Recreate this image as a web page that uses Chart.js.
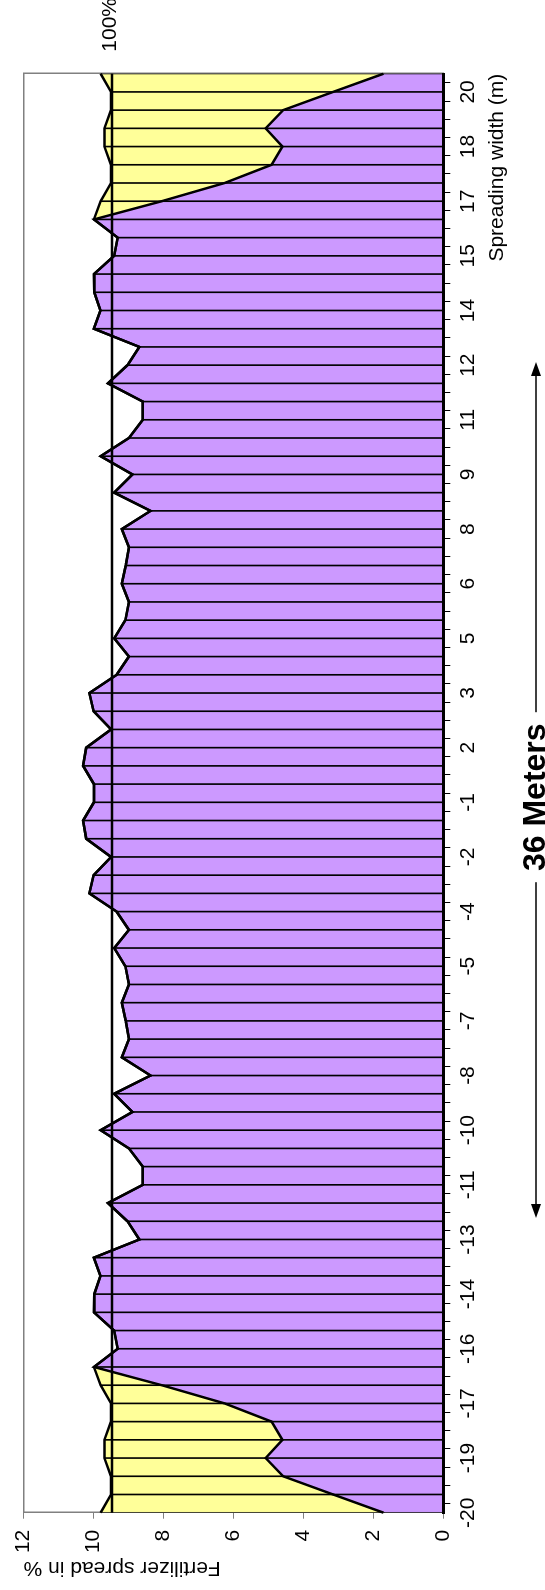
<!DOCTYPE html>
<html>
<head>
<meta charset="utf-8">
<title>Fertilizer spread</title>
<script src="https://cdn.jsdelivr.net/npm/chart.js@4.4.1/dist/chart.umd.min.js"></script>
<style>
  html, body { margin: 0; padding: 0; overflow: hidden; background: #fff; }
  /* chart is drawn landscape and turned a quarter turn, like the original sheet */
  #wrap {
    position: absolute; left: 0; top: 0;
    width: 1590px; height: 545px;
    transform-origin: 0 0;
    transform: translateY(1590px) rotate(-90deg);
  }
</style>
</head>
<body>
<div id="wrap"><canvas id="spreadChart" width="1590" height="545"></canvas></div>
<script>
// spreading width positions (m), one per measuring tray
const positions = [
  -20, -19.5, -19, -18.5, -18, -17.5, -17, -16.5, -16, -15.5,
  -15, -14.5, -14, -13.5, -13, -12.5, -12, -11.5, -11, -10.5,
  -10, -9.5, -9, -8.5, -8, -7.5, -7, -6.5, -6, -5.5,
  -5, -4.5, -4, -3.5, -3, -2.5, -2, -1.5, -1, -0.5,
  0.5, 1, 1.5, 2, 2.5, 3, 3.5, 4, 4.5, 5,
  5.5, 6, 6.5, 7, 7.5, 8, 8.5, 9, 9.5, 10,
  10.5, 11, 11.5, 12, 12.5, 13, 13.5, 14, 14.5, 15,
  15.5, 16, 16.5, 17, 17.5, 18, 18.5, 19, 19.5, 20
];

// labels shown on every third tray
const tickLabels = [
  "-20", "-19", "-17", "-16", "-14", "-13", "-11", "-10", "-8", "-7",
  "-5", "-4", "-2", "-1", "2", "3", "5", "6", "8", "9",
  "11", "12", "14", "15", "17", "18", "20"
];

// fertilizer from one pass (%)
const passValues = [
  1.71, 3.15, 4.58, 5.08, 4.60, 4.91, 6.25, 8.05, 9.99, 9.31,
  9.41, 9.99, 9.98, 9.80, 9.99, 8.69, 9.03, 9.59, 8.59, 8.59,
  8.99, 9.80, 8.89, 9.41, 8.37, 9.19, 8.99, 9.08, 9.19, 8.99,
  9.09, 9.41, 8.99, 9.34, 10.12, 10.00, 9.50, 10.21, 10.30, 9.99,
  9.99, 10.30, 10.21, 9.50, 10.00, 10.12, 9.34, 8.99, 9.41, 9.09,
  8.99, 9.19, 9.08, 8.99, 9.19, 8.37, 9.41, 8.89, 9.80, 8.99,
  8.59, 8.59, 9.59, 9.03, 8.69, 9.99, 9.80, 9.98, 9.99, 9.41,
  9.31, 9.99, 8.05, 6.25, 4.91, 4.60, 5.08, 4.58, 3.15, 1.71
];

// extra from the neighbouring passes (%)
const overlapValues = [
  8.09, 6.35, 4.92, 4.61, 5.09, 4.59, 3.25, 1.75, 0, 0,
  0, 0, 0, 0, 0, 0, 0, 0, 0, 0,
  0, 0, 0, 0, 0, 0, 0, 0, 0, 0,
  0, 0, 0, 0, 0, 0, 0, 0, 0, 0,
  0, 0, 0, 0, 0, 0, 0, 0, 0, 0,
  0, 0, 0, 0, 0, 0, 0, 0, 0, 0,
  0, 0, 0, 0, 0, 0, 0, 0, 0, 0,
  0, 0, 1.75, 3.25, 4.59, 5.09, 4.61, 4.92, 6.35, 8.09
];

const fullRate = 9.47; // the "100%" level

const FONT = '"Liberation Sans", Arial, sans-serif';
Chart.defaults.font.family = FONT;
Chart.defaults.font.size = 21;
Chart.defaults.color = "#000";

const fixSize = (w, h) => (scale) => {
    if (w !== null) scale.width = w;
    if (h !== null) scale.height = h;
};

// outer trays get the heavier area edge, the rest a thin drop line
const edgeBorder = (c) => (c.dataIndex === 0 || c.dataIndex === positions.length - 1 ? 1 : 0);

// texts and arrows around the plot
const notesPlugin = {
    id: "notes",
    afterDraw(chart) {
        const { ctx, chartArea, scales } = chart;
        ctx.save();
        ctx.fillStyle = "#000";
        ctx.strokeStyle = "#000";

        ctx.font = "21px " + FONT;
        ctx.textAlign = "left";
        ctx.textBaseline = "middle";
        ctx.fillText("100%", chartArea.right + 22, scales.y.getPixelForValue(fullRate) - 2);

        const midX = (chartArea.left + chartArea.right) / 2 - 4;
        const arrowY = 536;
        ctx.font = "bold 32px " + FONT;
        ctx.textAlign = "center";
        ctx.textBaseline = "middle";
        ctx.fillText("36 Meters", midX, 536);

        const arrow = (x0, x1) => {
            const dir = Math.sign(x1 - x0);
            ctx.lineWidth = 1.5;
            ctx.beginPath();
            ctx.moveTo(x0, arrowY);
            ctx.lineTo(x1 - dir * 10, arrowY);
            ctx.stroke();
            ctx.beginPath();
            ctx.moveTo(x1, arrowY);
            ctx.lineTo(x1 - dir * 14, arrowY - 5);
            ctx.lineTo(x1 - dir * 14, arrowY + 5);
            ctx.closePath();
            ctx.fill();
        };
        arrow(midX - 85, 372);
        arrow(midX + 85, 1228);
        ctx.restore();
    }
};

const ctx = document.getElementById("spreadChart");
new Chart(ctx, {
    type: "line",
    data: {
        labels: positions,
        datasets: [
            {
                label: "Single pass",
                data: passValues,
                fill: "origin",
                backgroundColor: "#cc99ff",
                borderColor: "#000",
                borderWidth: 2.5,
                pointRadius: 0,
                order: 1
            },
            {
                label: "Overlap",
                data: overlapValues,
                fill: "-1",
                backgroundColor: "#ffff99",
                borderColor: "#000",
                borderWidth: 2.5,
                pointRadius: 0,
                order: 2
            },
            {
                type: "bar",
                data: passValues,
                stack: "drop",
                backgroundColor: "#000",
                borderColor: "#000",
                barThickness: 1,
                borderWidth: edgeBorder,
                order: 3
            },
            {
                type: "bar",
                data: overlapValues,
                stack: "drop",
                backgroundColor: "#000",
                borderColor: "#000",
                barThickness: 1,
                borderWidth: edgeBorder,
                order: 4
            },
            {
                label: "100%",
                data: [
                    { x: positions[0], y: fullRate },
                    { x: positions[positions.length - 1], y: fullRate }
                ],
                stack: "ref",
                fill: false,
                borderColor: "#000",
                borderWidth: 2.5,
                pointRadius: 0,
                order: 0
            }
        ]
    },
    options: {
        responsive: false,
        animation: false,
        layout: { padding: 0 },
        plugins: {
            legend: { display: false },
            tooltip: { enabled: false },
            filler: { drawTime: "beforeDatasetsDraw" }
        },
        scales: {
            x: {
                type: "category",
                position: "bottom",
                offset: false,
                afterFit: fixSize(null, 101.7),
                border: { color: "#000", width: 3, z: 1 },
                grid: { drawOnChartArea: false, tickLength: 7, tickColor: "#000" },
                ticks: {
                    autoSkip: false,
                    maxRotation: 0,
                    minRotation: 0,
                    padding: 5,
                    callback: (value, index) => (index % 3 === 0 ? tickLabels[index / 3] : "")
                },
                title: {
                    display: true,
                    text: "Spreading width (m)",
                    align: "end",
                    padding: { top: 0, bottom: 35 }
                }
            },
            y: {
                position: "left",
                stacked: true,
                min: 0,
                max: 12,
                afterFit: fixSize(77.3, null),
                border: { color: "#808080", width: 1.5 },
                grid: { drawOnChartArea: false, tickLength: 6, tickColor: "#808080" },
                ticks: { stepSize: 2, padding: 11 },
                title: {
                    display: true,
                    text: "Fertilizer spread in %",
                    align: "end",
                    padding: { top: 10, bottom: 0 }
                }
            },
            xTop: {
                type: "category",
                position: "top",
                offset: false,
                afterFit: fixSize(null, 18.3),
                border: { color: "#808080", width: 1.5 },
                grid: { display: false },
                ticks: { display: false }
            },
            yRight: {
                type: "linear",
                position: "right",
                min: 0,
                max: 12,
                afterFit: fixSize(73.7, null),
                border: { color: "#808080", width: 1.5 },
                grid: { display: false },
                ticks: { display: false }
            }
        }
    },
    plugins: [notesPlugin]
});
</script>
</body>
</html>
